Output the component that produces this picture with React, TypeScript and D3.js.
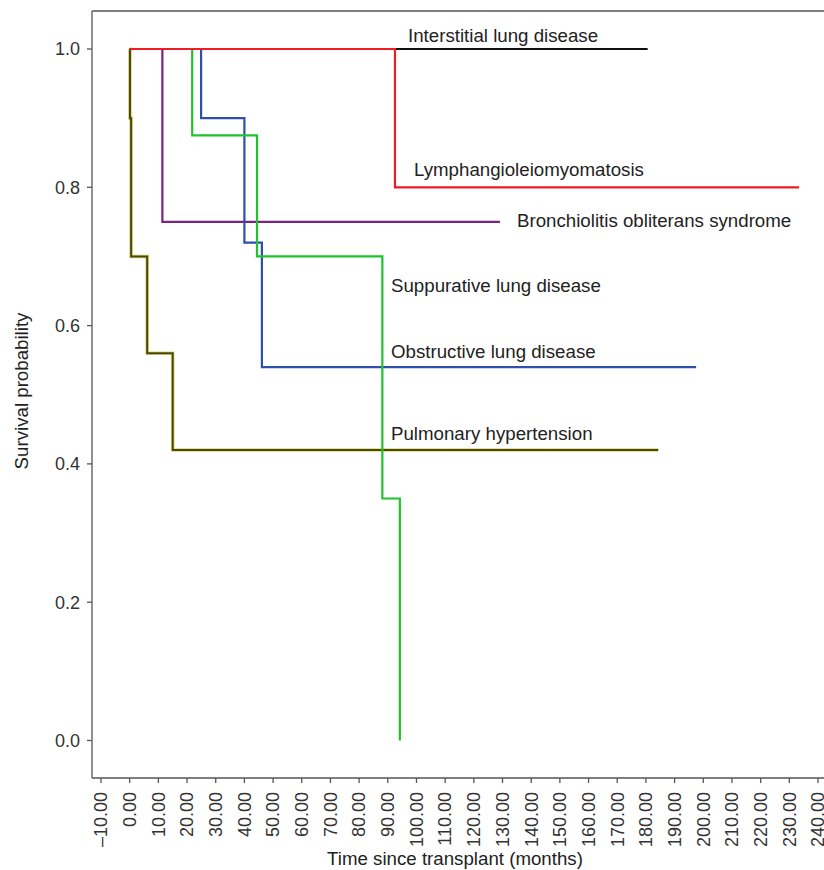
import React from "react";
import * as d3 from "d3";

const xTicks = [-10, 0, 10, 20, 30, 40, 50, 60, 70, 80, 90, 100, 110, 120, 130, 140, 150, 160, 170, 180, 190, 200, 210, 220, 230, 240];
const yTicks = [0.0, 0.2, 0.4, 0.6, 0.8, 1.0];

const ildTimes = [0, 180.6];
const ildSurv = [1.0, 1.0];
const lamTimes = [0, 92.5, 233.4];
const lamSurv = [1.0, 0.8, 0.8];
const bosTimes = [0, 11.4, 129.1];
const bosSurv = [1.0, 0.75, 0.75];
const supTimes = [0, 21.8, 44.4, 88.1, 94.2, 94.2];
const supSurv = [1.0, 0.875, 0.7, 0.35, 0.0, 0.0];
const obsTimes = [0, 24.9, 40.0, 46.1, 197.5];
const obsSurv = [1.0, 0.9, 0.72, 0.54, 0.54];
const phTimes = [0, 0.1, 0.5, 6.1, 15.0, 184.3];
const phSurv = [1.0, 0.9, 0.7, 0.56, 0.42, 0.42];

const seriesNames = [
  "Pulmonary hypertension",
  "Obstructive lung disease",
  "Suppurative lung disease",
  "Bronchiolitis obliterans syndrome",
  "Interstitial lung disease",
  "Lymphangioleiomyomatosis",
];

const W = 824;
const H = 870;
const x = d3.scaleLinear().domain([-10, 240]).range([101, 818]);
const y = d3.scaleLinear().domain([0, 1]).range([740.5, 49]);

const line = d3
  .line<[number, number]>()
  .x((d) => x(d[0]))
  .y((d) => y(d[1]))
  .curve(d3.curveStepAfter);

function pts(t: number[], s: number[]): [number, number][] {
  return t.map((v, i) => [v, s[i]]);
}

const series = [
  { name: seriesNames[4], t: ildTimes, s: ildSurv, color: "#111111", halo: null as string | null, lx: 408, ly: 42 },
  { name: seriesNames[5], t: lamTimes, s: lamSurv, color: "#ee1c24", halo: null, lx: 414, ly: 176 },
  { name: seriesNames[0], t: phTimes, s: phSurv, color: "#4d4a00", halo: "#d8d68a", lx: 391, ly: 440 },
  { name: seriesNames[3], t: bosTimes, s: bosSurv, color: "#7b2182", halo: null, lx: 517, ly: 227 },
  { name: seriesNames[1], t: obsTimes, s: obsSurv, color: "#2d4fae", halo: null, lx: 391, ly: 358 },
  { name: seriesNames[2], t: supTimes, s: supSurv, color: "#1fc42a", halo: null, lx: 391, ly: 292 },
];

const drawOrder = [0, 2, 3, 4, 5, 1];

export default function App() {
  const font = "'Liberation Sans', Arial, Helvetica, sans-serif";
  return (
    <svg
      width={W}
      height={H}
      style={{ position: "absolute", left: 0, top: 0, background: "#fff" }}
      fontFamily={font}
    >
      <rect x={0} y={0} width={W} height={H} fill="#fff" />
      {/* frame */}
      <line x1={92} y1={11} x2={W} y2={11} stroke="#555" strokeWidth={1.3} />
      <line x1={92} y1={11} x2={92} y2={778} stroke="#555" strokeWidth={1.3} />
      <line x1={92} y1={778} x2={W} y2={778} stroke="#555" strokeWidth={1.3} />
      {/* y ticks */}
      {yTicks.map((v) => (
        <g key={"y" + v}>
          <line x1={87} x2={92} y1={y(v)} y2={y(v)} stroke="#555" strokeWidth={1.3} />
          <text x={80} y={y(v)} dy="0.35em" textAnchor="end" fontSize={18} fill="#333">
            {v.toFixed(1)}
          </text>
        </g>
      ))}
      {/* x ticks */}
      {xTicks.map((v) => (
        <g key={"x" + v}>
          <line x1={x(v)} x2={x(v)} y1={778} y2={783} stroke="#555" strokeWidth={1.3} />
          <text
            transform={`translate(${x(v)},792) rotate(-90)`}
            textAnchor="end"
            dy="0.35em"
            fontSize={18}
            fill="#333"
          >
            {(v < 0 ? "\u2013" + Math.abs(v).toFixed(2) : v.toFixed(2))}
          </text>
        </g>
      ))}
      {/* axis titles */}
      <text x={455} y={865} textAnchor="middle" fontSize={18.7} fill="#222">
        Time since transplant (months)
      </text>
      <text
        transform={`translate(28,391) rotate(-90)`}
        textAnchor="middle"
        fontSize={18.7}
        fill="#222"
      >
        Survival probability
      </text>
      {/* curves */}
      {drawOrder.map((i) => {
        const sr = series[i];
        const d = line(pts(sr.t, sr.s)) || "";
        return (
          <g key={sr.name}>
            {sr.halo && <path d={d} fill="none" stroke={sr.halo} strokeWidth={3.6} />}
            <path d={d} fill="none" stroke={sr.color} strokeWidth={sr.halo ? 2 : 2.2} />
          </g>
        );
      })}
      {/* labels */}
      {series.map((sr) => (
        <text key={"l" + sr.name} x={sr.lx} y={sr.ly} fontSize={18.7} fill="#222">
          {sr.name}
        </text>
      ))}
    </svg>
  );
}
